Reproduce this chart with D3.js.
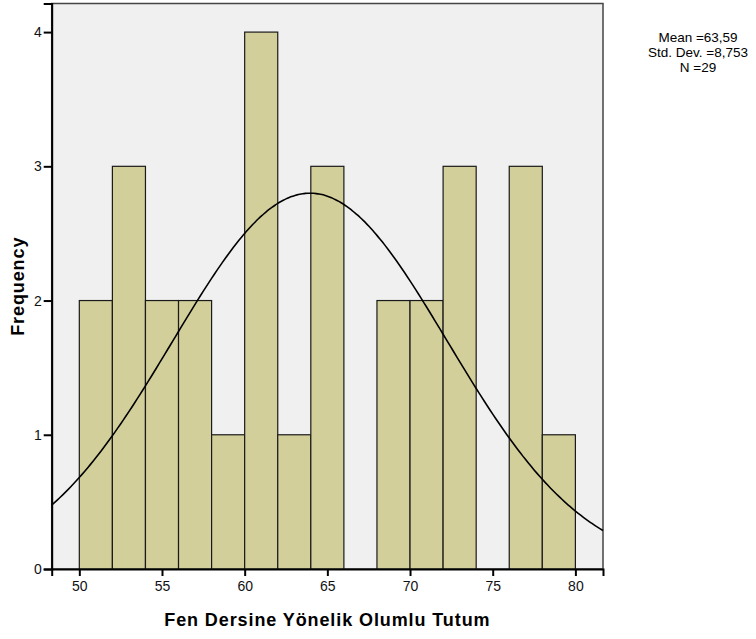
<!DOCTYPE html>
<html>
<head>
<meta charset="utf-8">
<title>Histogram</title>
<script src="https://d3js.org/d3.v7.min.js"></script>
<style>
  body { margin: 0; background: #fff; }
  text { font-family: "Liberation Sans", Arial, sans-serif; }
</style>
</head>
<body>
<div id="chart"></div>
<script>
// bins (start value) and counts
var binStarts = [50, 52, 54, 56, 58, 60, 62, 64, 66, 68, 70, 72, 74, 76, 78];
var counts    = [ 2,  3,  2,  2,  1,  4,  1,  3,  0,  2,  2,  3,  0,  3,  1];
var binWidth = 2;
var xTicks = [50, 55, 60, 65, 70, 75, 80];
var yTicks = [0, 1, 2, 3, 4];
var statLines = ["Mean =63,59", "Std. Dev. =8,753", "N =29"];
// fitted normal curve as drawn
var curveMean = 63.95, curveSd = 8.3, curvePeak = 2.8;

var margin = {top: 3.5, right: 153, bottom: 70, left: 51.7},
    width = 756 - margin.left - margin.right,
    height = 639 - margin.top - margin.bottom;

var svg = d3.select("#chart").append("svg")
    .attr("width", 756).attr("height", 639);
var g = svg.append("g")
    .attr("transform", "translate(" + margin.left + "," + margin.top + ")");

var x = d3.scaleLinear().domain([48.33, 81.67]).range([0, width]);
var y = d3.scaleLinear().domain([0, 4.213]).range([height, 0]);

// plot background
g.append("rect")
  .attr("width", width).attr("height", height)
  .attr("fill", "#f0f0f0")
  .attr("stroke", "#444").attr("stroke-width", 1.5);

// bars
g.selectAll(".bar")
  .data(binStarts.map(function(s, i) { return {s: s, c: counts[i]}; }).filter(function(d) { return d.c > 0; }))
  .enter().append("rect")
    .attr("class", "bar")
    .attr("x", function(d) { return x(d.s); })
    .attr("width", function(d) { return x(d.s + binWidth) - x(d.s); })
    .attr("y", function(d) { return y(d.c); })
    .attr("height", function(d) { return y(0) - y(d.c); })
    .attr("fill", "#d3cf9b")
    .attr("stroke", "#1a1a1a").attr("stroke-width", 1.2);

// normal curve
var pts = d3.range(0, 201).map(function(i) { return 48.33 + i * (81.67 - 48.33) / 200; });
var line = d3.line()
  .x(function(v) { return x(v); })
  .y(function(v) { return y(curvePeak * Math.exp(-Math.pow(v - curveMean, 2) / (2 * curveSd * curveSd))); })
  .curve(d3.curveBasis);
g.append("path")
  .datum(pts)
  .attr("d", line)
  .attr("fill", "none")
  .attr("stroke", "#000").attr("stroke-width", 1.6);

// axes
var xAxis = g.append("g")
  .attr("transform", "translate(0," + height + ")")
  .call(d3.axisBottom(x).tickValues(xTicks).tickSize(7).tickPadding(5));
var yAxis = g.append("g")
  .call(d3.axisLeft(y).tickValues(yTicks).tickFormat(d3.format("d")).tickSize(8).tickPadding(2));
[xAxis, yAxis].forEach(function(a) {
  a.select(".domain").attr("stroke", "#000").attr("stroke-width", 2);
  a.selectAll(".tick line").attr("stroke", "#000").attr("stroke-width", 2);
  a.selectAll(".tick text").attr("font-size", 14).attr("fill", "#111")
    .style("font-family", "'Liberation Sans', Arial, sans-serif");
});

// axis titles
svg.append("text")
  .attr("x", margin.left + width / 2)
  .attr("y", 626)
  .attr("text-anchor", "middle")
  .attr("font-size", 18).attr("font-weight", "bold")
  .attr("letter-spacing", 0.9)
  .text("Fen Dersine Yönelik Olumlu Tutum");
svg.append("text")
  .attr("transform", "translate(24," + (margin.top + height / 2) + ") rotate(-90)")
  .attr("text-anchor", "middle")
  .attr("font-size", 18).attr("font-weight", "bold")
  .attr("letter-spacing", 0.9)
  .text("Frequency");

// stats box
svg.selectAll(".stat")
  .data(statLines)
  .enter().append("text")
    .attr("class", "stat")
    .attr("x", 698)
    .attr("y", function(d, i) { return 42 + i * 15; })
    .attr("text-anchor", "middle")
    .attr("font-size", 13.5)
    .text(function(d) { return d; });
</script>
</body>
</html>
